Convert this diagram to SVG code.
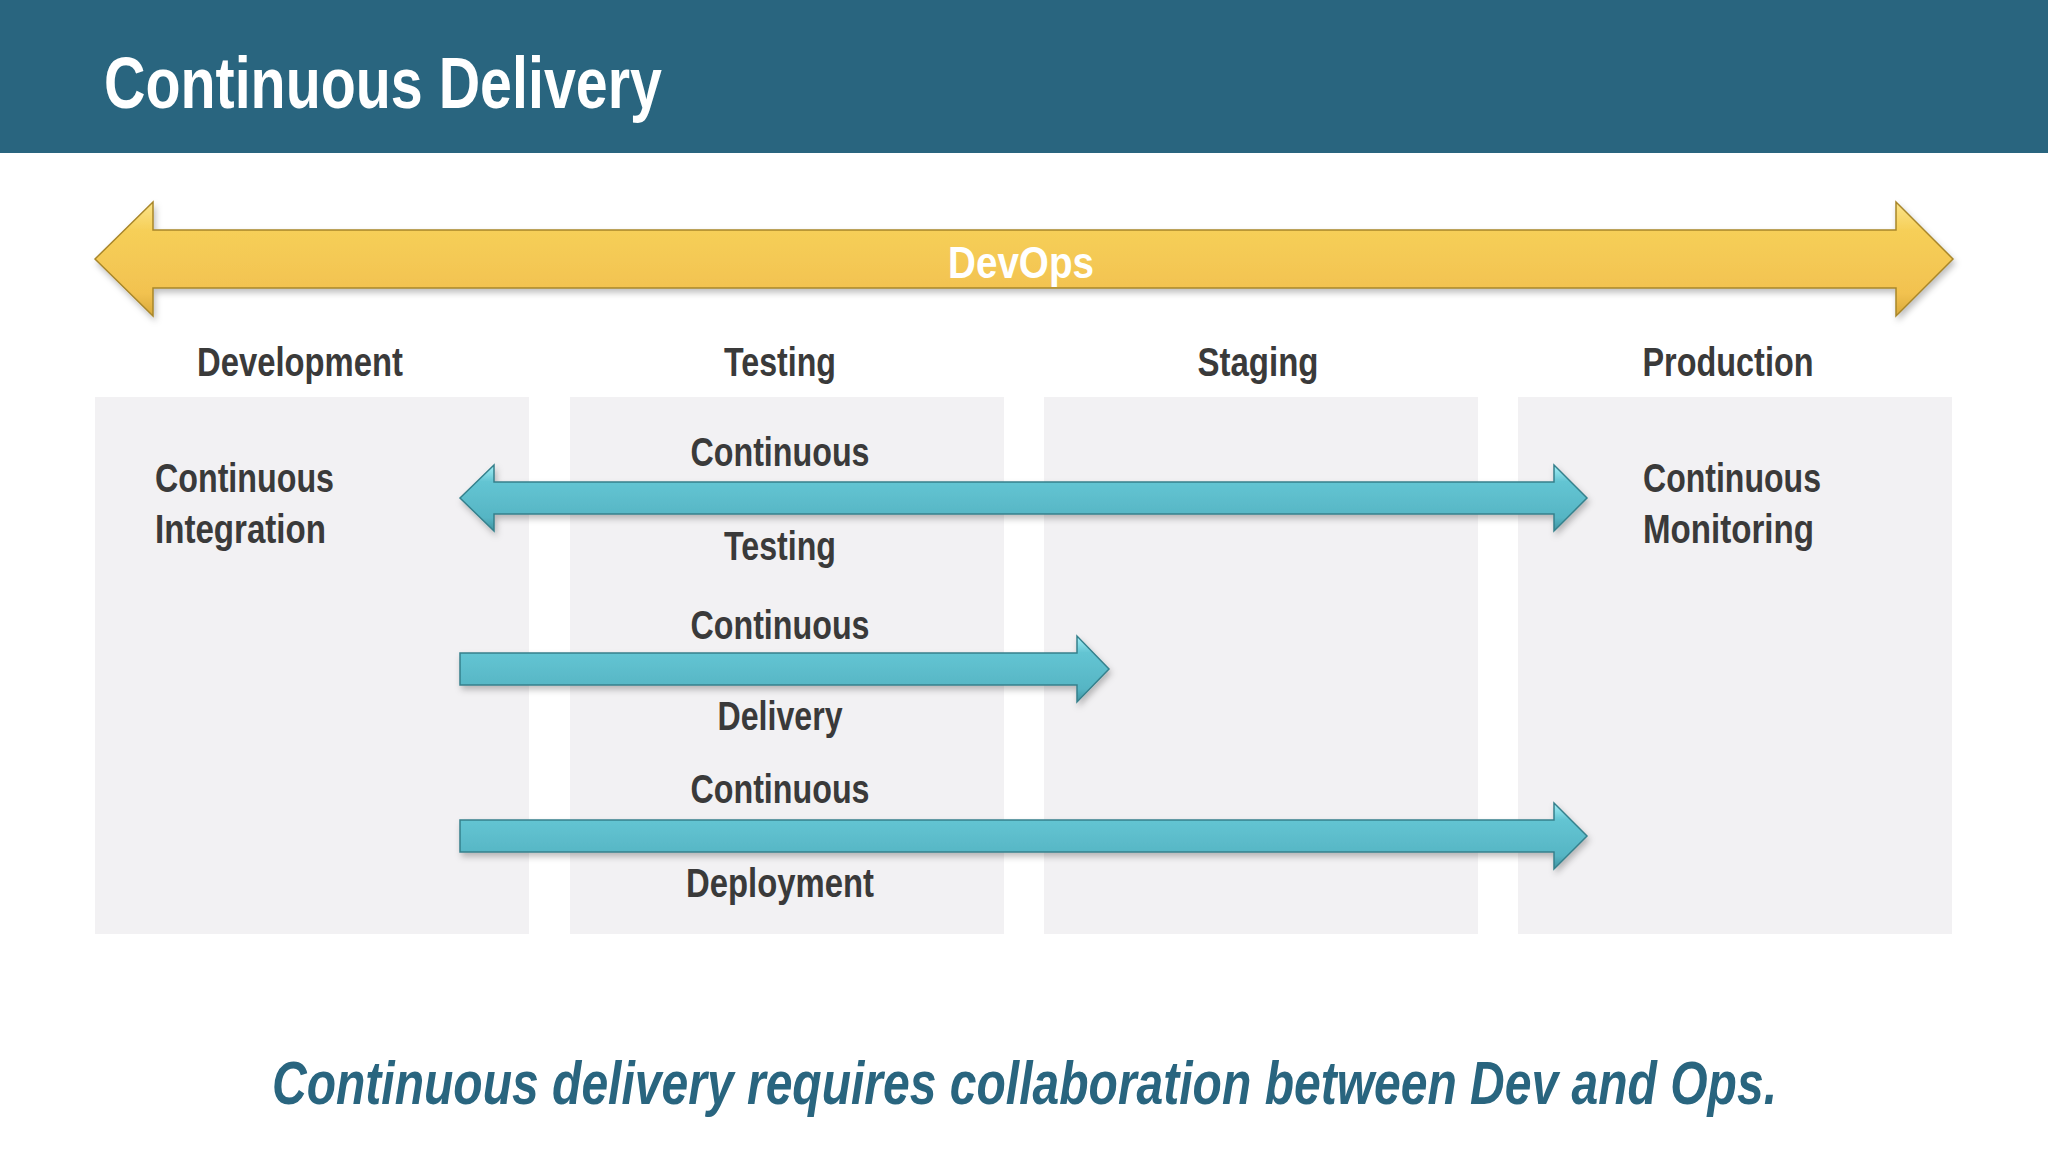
<svg xmlns="http://www.w3.org/2000/svg" width="2048" height="1152" viewBox="0 0 2048 1152">
<defs>
<linearGradient id="gold" x1="0" y1="0" x2="0" y2="1">
<stop offset="0" stop-color="#fbe48a"/>
<stop offset="0.25" stop-color="#f6cf58"/>
<stop offset="0.8" stop-color="#f2c250"/>
<stop offset="1" stop-color="#d9a93a"/>
</linearGradient>
<linearGradient id="teal" x1="0" y1="0" x2="0" y2="1">
<stop offset="0" stop-color="#a6f0f7"/>
<stop offset="0.25" stop-color="#63c5d3"/>
<stop offset="0.8" stop-color="#56b5c4"/>
<stop offset="1" stop-color="#3e93a1"/>
</linearGradient>
<filter id="shadow" x="-5%" y="-30%" width="110%" height="160%">
<feDropShadow dx="2" dy="4" stdDeviation="3" flood-color="#000" flood-opacity="0.25"/>
</filter>
<style>
.lbl{font-family:"Liberation Sans",Arial,sans-serif;font-size:41px;font-weight:bold;fill:#3a3a3a;}
.mid{text-anchor:middle;}
.col{fill:#f2f1f3;}
.gold{fill:url(#gold);stroke:#a8862a;stroke-width:1.5;filter:url(#shadow);}
.teal{fill:url(#teal);stroke:#35808c;stroke-width:1.5;filter:url(#shadow);}
</style>
</defs>
<rect width="2048" height="1152" fill="#ffffff"/>
<g id="header">
<rect x="0" y="0" width="2048" height="153" fill="#29657f"/>
<text x="104" y="108" font-family="'Liberation Sans',Arial,sans-serif" font-size="72" font-weight="bold" fill="#ffffff" textLength="558" lengthAdjust="spacingAndGlyphs">Continuous Delivery</text>
</g>
<g id="col-development">
<rect class="col" x="95" y="397" width="434" height="537"/>
<text class="lbl mid" x="300" y="376" textLength="206" lengthAdjust="spacingAndGlyphs">Development</text>
</g>
<g id="col-testing">
<rect class="col" x="570" y="397" width="434" height="537"/>
<text class="lbl mid" x="780" y="376" textLength="112" lengthAdjust="spacingAndGlyphs">Testing</text>
</g>
<g id="col-staging">
<rect class="col" x="1044" y="397" width="434" height="537"/>
<text class="lbl mid" x="1258" y="376" textLength="121" lengthAdjust="spacingAndGlyphs">Staging</text>
</g>
<g id="col-production">
<rect class="col" x="1518" y="397" width="434" height="537"/>
<text class="lbl mid" x="1728" y="376" textLength="171" lengthAdjust="spacingAndGlyphs">Production</text>
</g>
<g id="connectors">
<polygon id="devops-arrow" class="gold" points="95,259 153,202 153,230 1896,230 1896,202 1953,259 1896,316 1896,288 153,288 153,316"/>
<polygon id="ct-arrow" class="teal" points="460,498 494,465 494,482 1554,482 1554,465 1587,498 1554,531 1554,514 494,514 494,531"/>
<polygon id="cdel-arrow" class="teal" points="460,653 1077,653 1077,636 1109,669 1077,702 1077,685 460,685"/>
<polygon id="cdep-arrow" class="teal" points="460,820 1554,820 1554,803 1587,836 1554,869 1554,852 460,852"/>
</g>
<g id="devops-label">
<text x="1021" y="278" font-family="'Liberation Sans',Arial,sans-serif" font-size="44" font-weight="bold" fill="#ffffff" text-anchor="middle" textLength="146" lengthAdjust="spacingAndGlyphs">DevOps</text>
</g>
<g id="ci">
<text class="lbl" x="155" y="492" textLength="179" lengthAdjust="spacingAndGlyphs">Continuous</text>
<text class="lbl" x="155" y="543" textLength="171" lengthAdjust="spacingAndGlyphs">Integration</text>
</g>
<g id="cm">
<text class="lbl" x="1643" y="492" textLength="178" lengthAdjust="spacingAndGlyphs">Continuous</text>
<text class="lbl" x="1643" y="543" textLength="171" lengthAdjust="spacingAndGlyphs">Monitoring</text>
</g>
<g id="ct">
<text class="lbl mid" x="780" y="466" textLength="179" lengthAdjust="spacingAndGlyphs">Continuous</text>
<text class="lbl mid" x="780" y="560" textLength="112" lengthAdjust="spacingAndGlyphs">Testing</text>
</g>
<g id="cdel">
<text class="lbl mid" x="780" y="639" textLength="179" lengthAdjust="spacingAndGlyphs">Continuous</text>
<text class="lbl mid" x="780" y="730" textLength="125" lengthAdjust="spacingAndGlyphs">Delivery</text>
</g>
<g id="cdep">
<text class="lbl mid" x="780" y="803" textLength="179" lengthAdjust="spacingAndGlyphs">Continuous</text>
<text class="lbl mid" x="780" y="897" textLength="188" lengthAdjust="spacingAndGlyphs">Deployment</text>
</g>
<g id="caption">
<text x="272" y="1104" font-family="'Liberation Sans',Arial,sans-serif" font-size="62" font-weight="bold" font-style="italic" fill="#29657f" textLength="1505" lengthAdjust="spacingAndGlyphs">Continuous delivery requires collaboration between Dev and Ops.</text>
</g>
</svg>
